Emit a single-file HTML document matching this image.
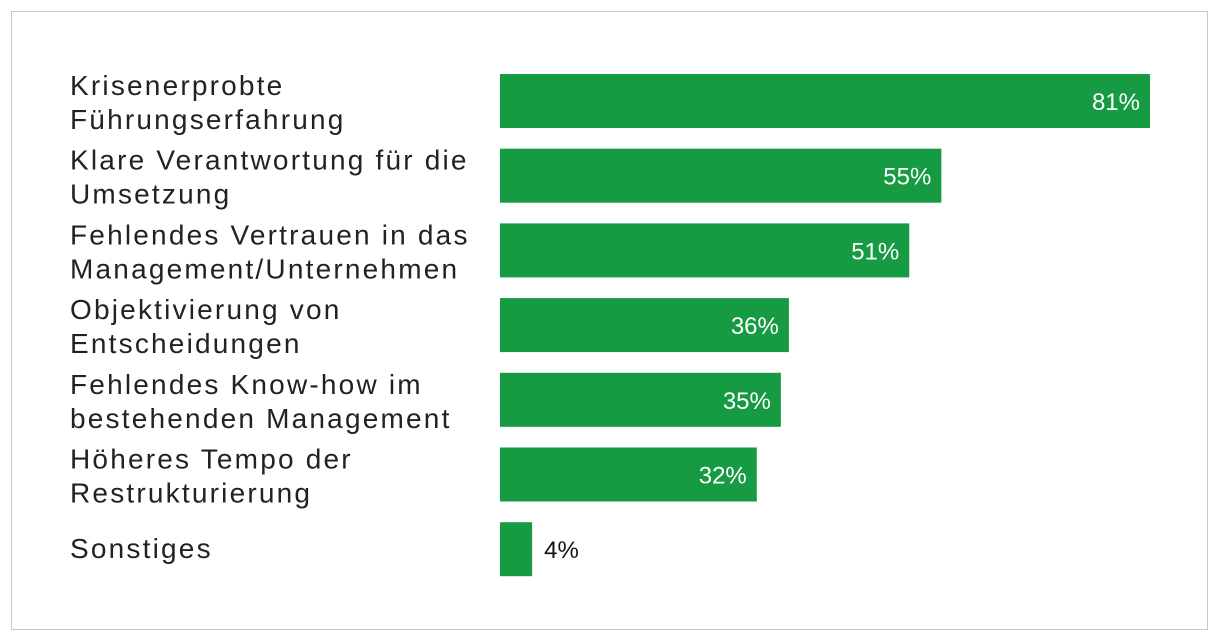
<!DOCTYPE html>
<html><head><meta charset="utf-8"><style>
body{margin:0;background:#fff;width:1220px;height:642px;overflow:hidden;font-family:"Liberation Sans",sans-serif}
#frame{position:absolute;left:11px;top:11px;width:1197px;height:619px;border:1.5px solid #c8c8c8;box-sizing:border-box}
</style></head><body>
<div id="frame"></div>
<svg id="chart" width="1220" height="642" style="position:absolute;left:0;top:0"></svg>
<script>
const categories=[["Krisenerprobte","Führungserfahrung"],["Klare Verantwortung für die","Umsetzung"],["Fehlendes Vertrauen in das","Management/Unternehmen"],["Objektivierung von","Entscheidungen"],["Fehlendes Know-how im","bestehenden Management"],["Höheres Tempo der","Restrukturierung"],["Sonstiges"]];
const values=[81,55,51,36,35,32,4];
const svg=document.getElementById('chart');
const NS='http://www.w3.org/2000/svg';
const x0=500, perPct=650/81, barH=54;
function xScale(v){return x0+v*perPct;}
function yTop(i){return 74+i*74.7;}
values.forEach((v,i)=>{
  const r=document.createElementNS(NS,'rect');
  r.setAttribute('x',x0);r.setAttribute('y',yTop(i));
  r.setAttribute('width',xScale(v)-x0);r.setAttribute('height',barH);
  r.setAttribute('fill','#169a42');
  
  
  svg.appendChild(r);
  const t=document.createElementNS(NS,'text');
  const inside=v>10;
  t.setAttribute('x',inside?xScale(v)-10:xScale(v)+12);
  t.setAttribute('y',yTop(i)+barH/2+9);
  t.setAttribute('text-anchor',inside?'end':'start');
  t.setAttribute('font-size','24');
  t.setAttribute('fill',inside?'#fff':'#111');
  t.textContent=v+'%';
  
  
  svg.appendChild(t);
  const lines=categories[i];
  const c=yTop(i)+barH/2;
  lines.forEach((ln,j)=>{
    const l=document.createElementNS(NS,'text');
    const y=lines.length===1?c+9:c-6+j*34;
    l.setAttribute('x',70);l.setAttribute('y',y);
    l.setAttribute('font-size','28');l.setAttribute('fill','#222');
    l.setAttribute('letter-spacing','2.2');
    l.textContent=ln;
    
    
    svg.appendChild(l);
  });
});
</script>
</body></html>
